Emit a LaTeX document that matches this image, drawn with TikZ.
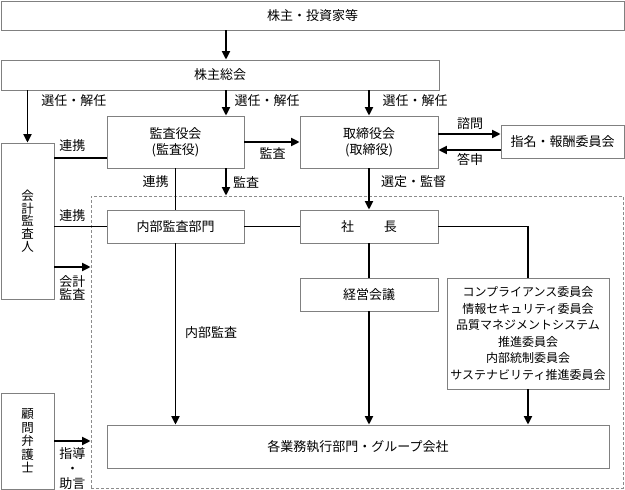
\documentclass[tikz,border=0pt]{standalone}
\usepackage{fontspec}
\setmainfont{Noto Sans CJK JP}
\usetikzlibrary{arrows.meta}
\newcommand\myfs[2]{\fontsize{#1}{#2}\selectfont}
\tikzset{
  box/.style={draw=black!50, line width=0.8pt, inner sep=0pt, align=center, font=\myfs{13pt}{16pt}},
  lbl/.style={inner sep=0pt, align=center, font=\myfs{13pt}{13pt}},
  conn/.style={line width=1.9pt, black},
  arr/.style={conn, -{Triangle[length=8.5pt,width=8pt]}},
}
\begin{document}
\begin{tikzpicture}[x=1pt,y=-1pt]
\useasboundingbox (0,0) rectangle (625,490);
% dashed execution area
\node[draw=black!45, dashed, dash pattern=on 3pt off 2pt, line width=0.8pt, minimum width=532pt, minimum height=292pt, inner sep=0pt] (exec) at (357,342) {};
% boxes
\node[box, minimum width=623pt, minimum height=29pt] (top) at (312.5,15.5) {株主・投資家等};
\node[box, minimum width=438pt, minimum height=30pt] (soukai) at (220,75) {株主総会};
\node[box, minimum width=137pt, minimum height=52pt] (kansa) at (175.5,142) {監査役会\\(監査役)};
\node[box, minimum width=138pt, minimum height=52pt] (tori) at (369,142) {取締役会\\(取締役)};
\node[box, minimum width=123pt, minimum height=33pt] (shimei) at (562.5,141.5) {指名・報酬委員会};
\node[box, minimum width=53pt, minimum height=156pt, font=\myfs{12.5pt}{12.8pt}] (kaikei) at (27.5,221) {会\\計\\監\\査\\人};
\node[box, minimum width=137pt, minimum height=33pt] (naibu) at (175.5,226.5) {内部監査部門};
\node[box, minimum width=138pt, minimum height=33pt] (shacho) at (369,226.5) {社\hspace{30pt}長};
\node[box, minimum width=138pt, minimum height=33pt] (keiei) at (369,294.5) {経営会議};
\node[box, minimum width=162pt, minimum height=111pt, font=\myfs{12pt}{16.6pt}] (iinkai) at (528,333.5) {コンプライアンス委員会\\情報セキュリティ委員会\\品質マネジメントシステム\\推進委員会\\内部統制委員会\\サステナビリティ推進委員会};
\node[box, minimum width=502pt, minimum height=43pt] (kaku) at (358,446.5) {各業務執行部門・グループ会社};
\node[box, minimum width=53pt, minimum height=96pt, font=\myfs{12.5pt}{13.5pt}] (komon) at (27.5,441) {顧\\問\\弁\\護\\士};
% helper coordinates
\coordinate (xa) at (226,0);
\coordinate (yk) at (0,158);
\coordinate (yc) at (0,267);
\coordinate (ys) at (0,134);
\coordinate (yt) at (0,150);
% connectors
\draw[arr] (top.south -| xa) -- (soukai.north -| xa);
\draw[arr] (soukai.south -| kaikei) -- (kaikei.north);
\draw[arr] (soukai.south -| xa) -- (kansa.north -| xa);
\draw[arr] (soukai.south -| tori) -- (tori.north);
\draw[conn] (kaikei.east |- yk) -- (kansa.west |- yk);
\draw[arr] (kansa.east) -- (tori.west);
\draw[conn] (kansa.south) -- (naibu.north);
\draw[arr] (kansa.south -| xa) -- (exec.north -| xa);
\draw[conn] (kaikei.east |- naibu.west) -- (naibu.west);
\draw[conn] (naibu.east) -- (shacho.west);
\draw[arr] (kaikei.east |- yc) -- (exec.west |- yc);
\draw[arr] (tori.south) -- (shacho.north);
\draw[arr] (tori.east |- ys) -- (shimei.west |- ys);
\draw[arr] (shimei.west |- yt) -- (tori.east |- yt);
\draw[conn] (shacho.east) -| (iinkai.north);
\draw[conn] (shacho.south) -- (keiei.north);
\draw[arr] (keiei.south) -- (kaku.north -| keiei);
\draw[arr] (iinkai.south) -- (kaku.north -| iinkai);
\draw[arr] (naibu.south) -- (kaku.north -| naibu);
\draw[arr] (komon.east) -- (exec.west |- komon.east);
% labels
\node[lbl] (l1) at (74,101) {選任・解任};
\node[lbl] (l2) at (267,101) {選任・解任};
\node[lbl] (l3) at (415,101) {選任・解任};
\node[lbl] (l4) at (72.5,146) {連携};
\node[lbl] (l5) at (272.5,153) {監査};
\node[lbl] (l6) at (155.5,182) {連携};
\node[lbl] (l7) at (246,182) {監査};
\node[lbl] (l8) at (72.5,216) {連携};
\node[lbl, font=\myfs{13pt}{13pt}] (l9) at (72.5,288) {会計\\監査};
\node[lbl] (l10) at (211,333) {内部監査};
\node[lbl] (l11) at (72.5,454) {指導};
\node[lbl] (l12) at (72.5,470) {・};
\node[lbl] (l13) at (72.5,484) {助言};
\node[lbl] (l14) at (470,124) {諮問};
\node[lbl] (l15) at (470,159) {答申};
\node[lbl] (l16) at (413.5,182) {選定・監督};
\end{tikzpicture}
\end{document}
